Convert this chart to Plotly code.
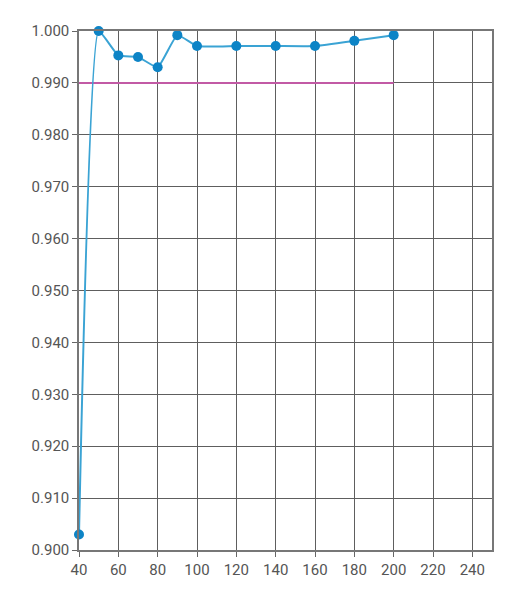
import plotly.graph_objects as go

x_vals = [40, 50, 60, 70, 80, 90, 100, 120, 140, 160, 180, 200]
y_vals = [0.903, 1.000, 0.9953, 0.995, 0.993, 0.9992, 0.9971, 0.9971, 0.9971, 0.9971, 0.9981, 0.9992]
ref_x = [40, 200]
ref_y = [0.990, 0.990]
x_ticks = [40, 60, 80, 100, 120, 140, 160, 180, 200, 220, 240]
y_ticks = [0.900, 0.910, 0.920, 0.930, 0.940, 0.950, 0.960, 0.970, 0.980, 0.990, 1.000]

fig = go.Figure()
fig.add_trace(go.Scatter(x=ref_x, y=ref_y, mode="lines",
                         line=dict(color="#c25aa5", width=2), hoverinfo="skip"))
fig.add_trace(go.Scatter(x=x_vals, y=y_vals, mode="lines+markers",
                         line=dict(color="#3aa3d4", width=2, shape="spline", smoothing=0.4),
                         marker=dict(color="#0d84c6", size=10), cliponaxis=False))

axis_common = dict(showgrid=True, gridcolor="#5e5e5e", gridwidth=1,
                   showline=True, linecolor="#777777", linewidth=1.5, mirror=True,
                   ticks="outside", ticklen=5, tickcolor="#666666", zeroline=False,
                   tickfont=dict(family="Roboto", size=15, color="#555555"))

fig.update_xaxes(range=[40, 250], tickvals=x_ticks, ticktext=[str(v) for v in x_ticks], **axis_common)
fig.update_yaxes(range=[0.9, 1.0], tickvals=y_ticks, ticktext=[f"{v:.3f}" for v in y_ticks], **axis_common)

fig.update_layout(width=505, height=600, showlegend=False,
                  paper_bgcolor="white", plot_bgcolor="white",
                  margin=dict(l=71, r=21, t=23, b=58))

fig.write_html("out.html")
